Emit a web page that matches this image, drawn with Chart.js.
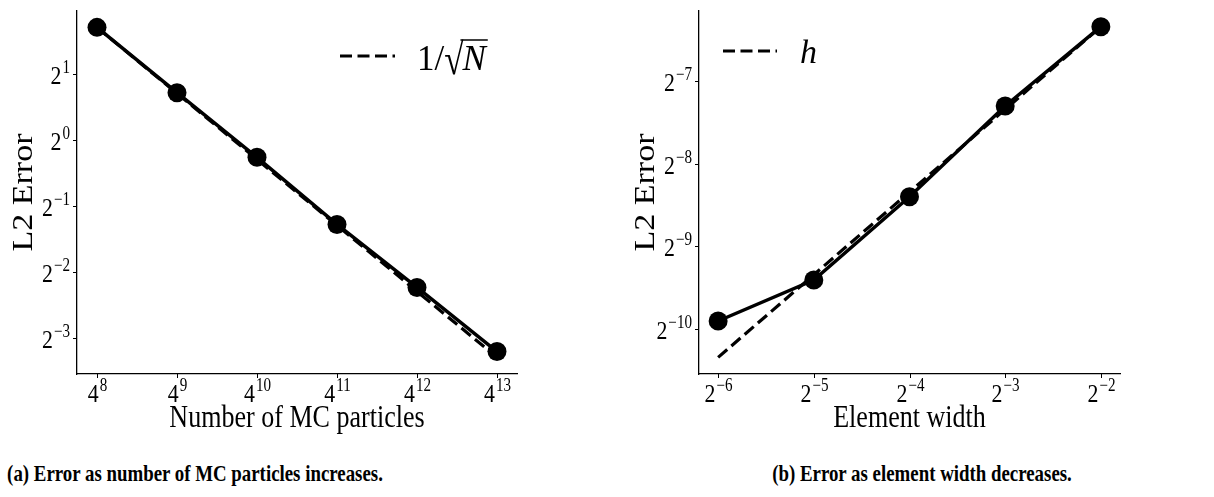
<!DOCTYPE html>
<html><head><meta charset="utf-8">
<script src="https://cdn.jsdelivr.net/npm/chart.js@4.4.1/dist/chart.umd.min.js"></script>
<style>
html,body{margin:0;padding:0;background:#fff;}
#wrap{position:relative;width:1214px;height:497px;overflow:hidden;background:#fff;}
.pane{position:absolute;top:0;width:607px;height:440px;}
.cap{position:absolute;top:461px;font:bold 23px 'Liberation Serif','Times New Roman',serif;white-space:nowrap;transform:translateX(-50%) scaleX(0.82);transform-origin:50% 50%;color:#000;}
</style></head><body>
<div id="wrap">
<div class="pane" style="left:0"><canvas id="c1" width="607" height="440"></canvas></div>
<div class="pane" style="left:607px"><canvas id="c2" width="607" height="440"></canvas></div>
<div class="cap" style="left:195px">(a) Error as number of MC particles increases.</div>
<div class="cap" style="left:922px">(b) Error as element width decreases.</div>
</div>
<script>
// ---- Data: panel (a) ----
const mcParticles = [65536, 262144, 1048576, 4194304, 16777216, 67108864]; // 4^8 .. 4^13
const mcError     = [3.265, 1.644, 0.834, 0.412, 0.2127, 0.1085];
const mcRef       = [3.265, 1.6325, 0.816, 0.408, 0.204, 0.102];   // 1/sqrt(N) guide
const mcXTickExp  = [8, 9, 10, 11, 12, 13];   // labels 4^k
const mcYTickExp  = [1, 0, -1, -2, -3];       // labels 2^k

// ---- Data: panel (b) ----
const hWidth   = [0.015625, 0.03125, 0.0625, 0.125, 0.25];        // 2^-6 .. 2^-2
const hError   = [0.0010446, 0.001473, 0.002960, 0.006338, 0.012318];
const hRef     = [0.000770, 0.001540, 0.003080, 0.006159, 0.012318]; // h guide
const hXTickExp = [-6, -5, -4, -3, -2];       // labels 2^k
const hYTickExp = [-7, -8, -9, -10];          // labels 2^k

const SERIF = "'Liberation Serif','DejaVu Serif','Times New Roman',serif";
const SQ = 0.84; // horizontal condensing of text, as in the reference

function supText(k){ return (k < 0 ? '\u2212' : '') + Math.abs(k); }

function drawPow(ctx, base, exp, x, y, align){
  // y = vertical centre of base glyph
  const bf = '26px ' + SERIF, ef = '18px ' + SERIF;
  const es = supText(exp);
  ctx.font = bf; const bw = ctx.measureText(base).width * SQ;
  ctx.font = ef; const ew = ctx.measureText(es).width * SQ;
  const tw = bw + 1 + ew;
  let x0 = align === 'center' ? x - tw/2 : x - tw;
  ctx.textBaseline = 'alphabetic';
  ctx.textAlign = 'left';
  ctx.fillStyle = '#000';
  ctx.save(); ctx.translate(x0, y + 9); ctx.scale(SQ, 1);
  ctx.font = bf; ctx.fillText(base, 0, 0);
  ctx.restore();
  ctx.save(); ctx.translate(x0 + bw + 1, y - 2); ctx.scale(SQ, 1);
  ctx.font = ef; ctx.fillText(es, 0, 0);
  ctx.restore();
}

function makePlugin(cfg){
  return {
    id: 'deco',
    afterDraw(chart){
      const ctx = chart.ctx, xs = chart.scales.x, ys = chart.scales.y, a = chart.chartArea;
      ctx.save();
      ctx.strokeStyle = '#000'; ctx.lineWidth = 1;
      // x ticks
      cfg.xTickExp.forEach(k => {
        const px = Math.round(xs.getPixelForValue(Math.pow(cfg.xBase, k))) + 0.5;
        ctx.beginPath(); ctx.moveTo(px, a.bottom); ctx.lineTo(px, a.bottom + 4); ctx.stroke();
        drawPow(ctx, String(cfg.xBase), k, px, a.bottom + 19, 'center');
      });
      // y ticks
      cfg.yTickExp.forEach(k => {
        const py = Math.round(ys.getPixelForValue(Math.pow(2, k))) + 0.5;
        ctx.beginPath(); ctx.moveTo(a.left - 4, py); ctx.lineTo(a.left, py); ctx.stroke();
        drawPow(ctx, '2', k, a.left - 7, py, 'right');
      });
      // axis titles
      ctx.fillStyle = '#000';
      ctx.textAlign = 'center'; ctx.textBaseline = 'alphabetic';
      ctx.save();
      ctx.translate((a.left + a.right)/2, a.bottom + 53); ctx.scale(SQ, 1);
      ctx.font = '31px ' + SERIF;
      ctx.fillText(cfg.xTitle, 0, 0);
      ctx.restore();
      ctx.save();
      ctx.translate(cfg.yTitleX, (a.top + a.bottom)/2);
      ctx.rotate(-Math.PI/2); ctx.scale(1, SQ);
      ctx.font = '34px ' + SERIF;
      ctx.fillText('L2 Error', 0, 0);
      ctx.restore();
      // legend
      const L = cfg.legend;
      ctx.lineWidth = 3.2; ctx.setLineDash([12, 5.5]); ctx.lineCap = 'butt';
      ctx.beginPath(); ctx.moveTo(L.x1, L.y); ctx.lineTo(L.x2, L.y); ctx.stroke();
      ctx.setLineDash([]);
      L.draw(ctx);
      ctx.restore();
    }
  };
}

function makeChart(id, xs, err, ref, xr, yr, cfg){
  return new Chart(document.getElementById(id), {
    type: 'line',
    data: {
      datasets: [
        { label: cfg.refLabel, data: xs.map((x,i)=>({x, y: ref[i]})), borderColor: '#000', borderWidth: 3.2,
          borderDash: [12, 5.5], pointRadius: 0, fill: false, tension: 0 },
        { label: 'error', data: xs.map((x,i)=>({x, y: err[i]})), borderColor: '#000', borderWidth: 3.5,
          pointRadius: 9.5, pointBackgroundColor: '#000', pointBorderColor: '#000', pointBorderWidth: 0,
          fill: false, tension: 0 }
      ]
    },
    options: {
      responsive: false, animation: false,
      layout: { padding: cfg.padding },
      plugins: { legend: { display: false }, tooltip: { enabled: false } },
      scales: {
        x: { type: 'logarithmic', min: xr[0], max: xr[1],
             grid: { display: false, drawTicks: false },
             border: { display: true, color: '#000', width: 1.3 },
             ticks: { display: false } },
        y: { type: 'logarithmic', min: yr[0], max: yr[1],
             grid: { display: false, drawTicks: false },
             border: { display: true, color: '#000', width: 1.3 },
             ticks: { display: false } }
      }
    },
    plugins: [makePlugin(cfg)]
  });
}

makeChart('c1', mcParticles, mcError, mcRef,
  [Math.pow(4, 7.75), Math.pow(4, 13.25)], [Math.pow(2, -3.545), Math.pow(2, 1.955)],
  { padding: { left: 77, right: 90, top: 11, bottom: 66 }, xBase: 4,
    xTickExp: mcXTickExp, yTickExp: mcYTickExp, xTitle: 'Number of MC particles', yTitleX: 32,
    refLabel: '1/\u221AN',
    legend: { x1: 340, x2: 395, y: 56, draw(ctx){
      ctx.fillStyle = '#000'; ctx.textBaseline = 'alphabetic'; ctx.textAlign = 'left';
      const yb = 70;
      ctx.save(); ctx.translate(417, 0);
      ctx.font = '35px ' + SERIF;
      let x = 0;
      ctx.fillText('1/', x, yb); x += ctx.measureText('1/').width;
      ctx.save(); ctx.translate(x, yb + 4); ctx.scale(1, 1.25);
      ctx.fillText('\u221A', 0, 0); ctx.restore();
      const sw = ctx.measureText('\u221A').width; x += sw - 2;
      ctx.font = 'italic 35px ' + SERIF;
      const nw = ctx.measureText('N').width;
      ctx.fillText('N', x + 1, yb);
      ctx.lineWidth = 1.5; ctx.beginPath(); ctx.moveTo(x - 1, yb - 30); ctx.lineTo(x + nw + 3, yb - 30); ctx.stroke();
      ctx.restore();
    } } });

makeChart('c2', hWidth, hError, hRef,
  [Math.pow(2, -6.2), Math.pow(2, -1.8)], [Math.pow(2, -10.544), Math.pow(2, -6.153)],
  { padding: { left: 92, right: 94, top: 11, bottom: 66 }, xBase: 2,
    xTickExp: hXTickExp, yTickExp: hYTickExp, xTitle: 'Element width', yTitleX: 47,
    refLabel: 'h',
    legend: { x1: 116, x2: 170, y: 51, draw(ctx){
      ctx.fillStyle = '#000'; ctx.textBaseline = 'alphabetic'; ctx.textAlign = 'left';
      ctx.font = 'italic 34px ' + SERIF;
      ctx.fillText('h', 193, 63);
    } } });
</script>
</body></html>
